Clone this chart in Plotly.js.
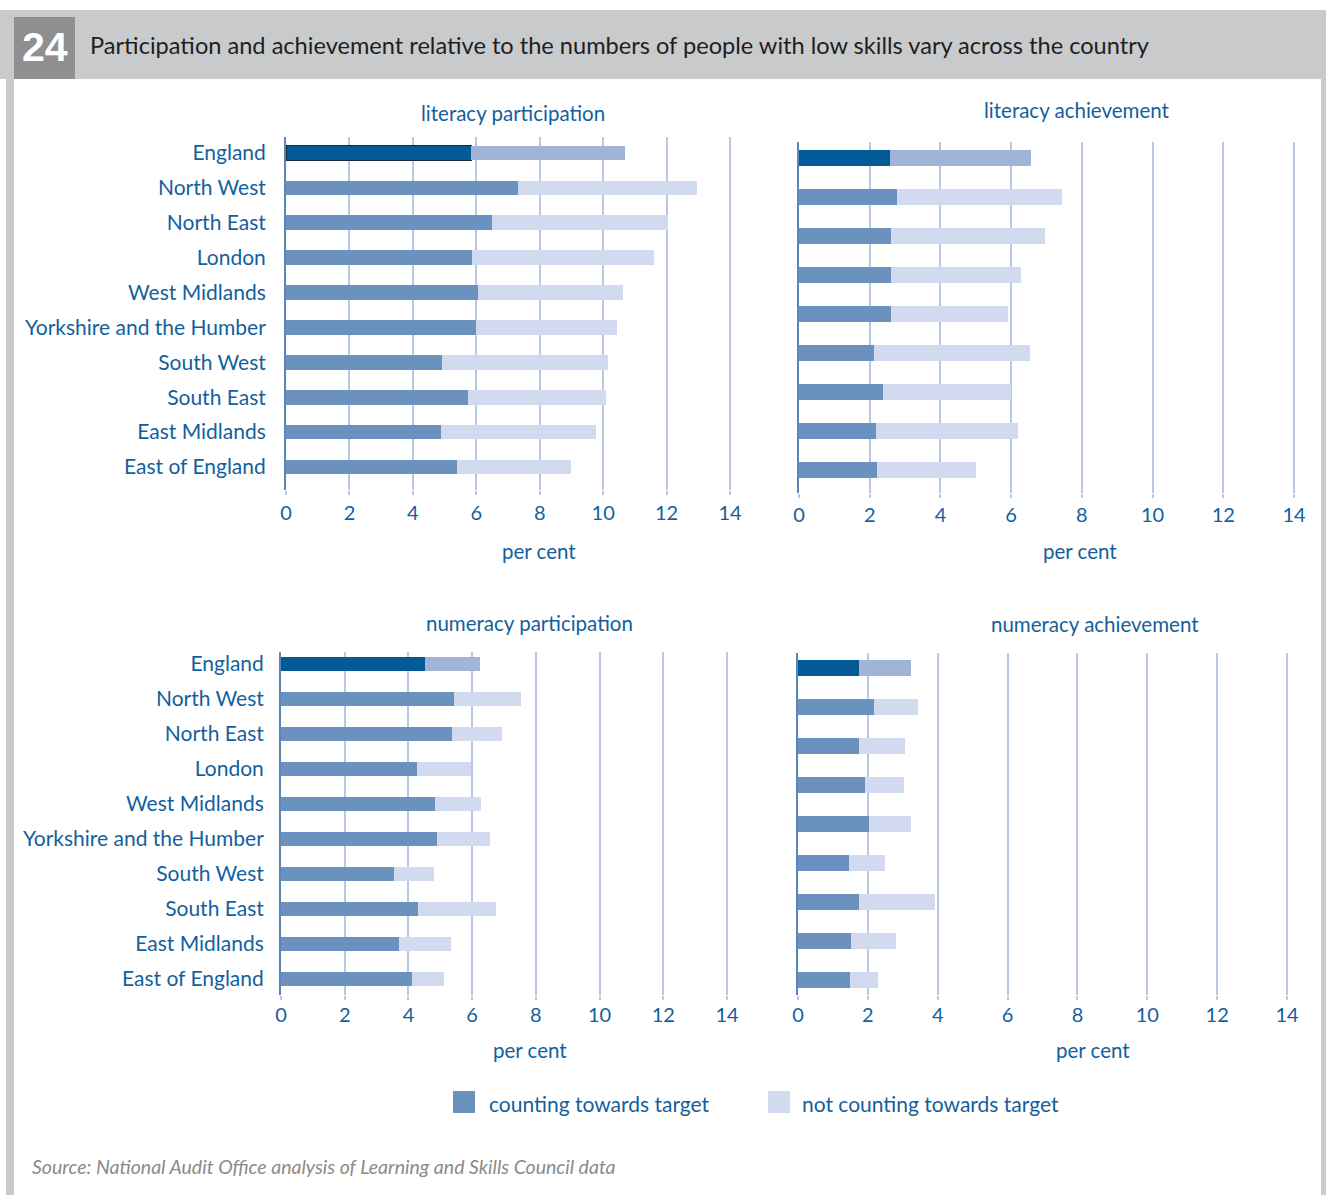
<!DOCTYPE html>
<html>
<head>
<meta charset="utf-8">
<script src="https://cdn.plot.ly/plotly-3.0.1.min.js"></script>
<style>
  html, body { margin: 0; padding: 0; background: #ffffff; }
  #chart { width: 1326px; height: 1195px; }
</style>
</head>
<body>
<div id="chart"></div>
<script>
// ---------------- data ----------------
const regions = ["England", "North West", "North East", "London", "West Midlands",
  "Yorkshire and the Humber", "South West", "South East", "East Midlands", "East of England"];
// the achievement panels show nine bars
const achRegions = ["England", "North West", "North East", "London", "West Midlands",
  "Yorkshire and the Humber", "South West", "South East", "East Midlands"];

const xTicks = [0, 2, 4, 6, 8, 10, 12, 14];

const litPartCounting    = [5.84, 7.30, 6.51, 5.87, 6.06, 6.00, 4.91, 5.74, 4.88, 5.39];
const litPartNotCounting = [4.86, 5.65, 5.55, 5.73, 4.58, 4.45, 5.23, 4.34, 4.90, 3.61];

const litAchCounting    = [2.57, 2.78, 2.59, 2.59, 2.59, 2.13, 2.38, 2.18, 2.21];
const litAchNotCounting = [3.98, 4.66, 4.36, 3.68, 3.33, 4.39, 3.62, 4.00, 2.79];

const numPartCounting    = [4.53, 5.42, 5.36, 4.28, 4.82, 4.91, 3.56, 4.31, 3.71, 4.11];
const numPartNotCounting = [1.72, 2.10, 1.59, 1.69, 1.46, 1.66, 1.23, 2.45, 1.62, 1.00];

const numAchCounting    = [1.74, 2.17, 1.74, 1.91, 2.03, 1.47, 1.74, 1.53, 1.50];
const numAchNotCounting = [1.49, 1.26, 1.32, 1.12, 1.20, 1.03, 2.19, 1.28, 0.78];

const panelTitles = ["literacy participation", "literacy achievement",
  "numeracy participation", "numeracy achievement"];
const axisTitle = "per cent";
const legendLabels = ["counting towards target", "not counting towards target"];
const headerNumber = "24";
const headerTitle = "Participation and achievement relative to the numbers of people with low skills vary across the country";
const sourceText = "Source: National Audit Office analysis of Learning and Skills Council data";

// ---------------- styles ----------------
const FONT = "Lato, 'Open Sans', sans-serif";
const TEXT = "#135f9d";
const C_COUNT = "#6b91be";
const C_COUNT_ENG = "#035a99";
const C_NOT = "#d1daee";
const C_NOT_ENG = "#a0b4d7";
const GRID = "#b9c8e2";
const W = 1326, H = 1195;
const XMAX = 14.08;

function colorsFor(cats, eng, other) { return cats.map(c => c === "England" ? eng : other); }

const panels = [
  { cats: regions,    cnt: litPartCounting, not: litPartNotCounting, xa: "x",  ya: "y",  engLine: true },
  { cats: achRegions, cnt: litAchCounting,  not: litAchNotCounting,  xa: "x2", ya: "y2" },
  { cats: regions,    cnt: numPartCounting, not: numPartNotCounting, xa: "x3", ya: "y3" },
  { cats: achRegions, cnt: numAchCounting,  not: numAchNotCounting,  xa: "x4", ya: "y4" }
];

const traces = [];
panels.forEach((p, i) => {
  traces.push({
    type: "bar", orientation: "h", y: p.cats, x: p.cnt, xaxis: p.xa, yaxis: p.ya,
    name: legendLabels[0], showlegend: false, hoverinfo: "x+y",
    marker: { color: colorsFor(p.cats, C_COUNT_ENG, C_COUNT),
      line: { color: p.cats.map(c => (p.engLine && c === "England") ? "#1b2a3a" : "rgba(0,0,0,0)"), width: p.engLine ? 1 : 0 } }
  });
  traces.push({
    type: "bar", orientation: "h", y: p.cats, x: p.not, xaxis: p.xa, yaxis: p.ya,
    name: legendLabels[1], showlegend: false, hoverinfo: "x+y",
    marker: { color: colorsFor(p.cats, C_NOT_ENG, C_NOT), line: { width: 0 } }
  });
});

// pixel helpers
const px = x => x / W;
const py = y => 1 - y / H;

// x0/x14: pixel positions of 0 and 14 on the axis
function xaxis(x0, x14, anchor, standoff) {
  const x1 = x0 + (x14 - x0) * XMAX / 14;
  return {
    domain: [px(x0), px(x1)], anchor: anchor, range: [0, XMAX], tickvals: xTicks, ticktext: xTicks.map(String),
    showgrid: true, gridcolor: GRID, gridwidth: 2, zeroline: false,
    showline: false, ticks: "outside", ticklen: 4, tickcolor: GRID, tickwidth: 2,
    ticklabelstandoff: standoff,
    tickfont: { family: FONT, size: 20, color: TEXT }, fixedrange: true
  };
}
// top/bottom: pixel extents of the plotting area; rTop/rBot: category range
function yaxis(top, bot, rTop, rBot, anchor, showLabels, standoff) {
  return {
    domain: [py(bot), py(top)], anchor: anchor, type: "category", range: [rBot, rTop],
    showgrid: false, zeroline: false, showline: true, linecolor: "#5a86b8", linewidth: 2,
    ticks: "", showticklabels: showLabels, ticklabelstandoff: standoff,
    tickfont: { family: FONT, size: 21, color: TEXT }, fixedrange: true
  };
}

const annotations = [];
// panel titles
[[513, 113], [1077, 110], [529, 623], [1095, 624]].forEach((pos, i) => {
  annotations.push({ xref: "paper", yref: "paper", x: px(pos[0]), y: py(pos[1]),
    xanchor: "center", yanchor: "middle", showarrow: false, text: panelTitles[i],
    font: { family: FONT, size: 20.5, color: TEXT } });
});
// axis titles
[[539, 551], [1080, 551], [530, 1050], [1093, 1050]].forEach(pos => {
  annotations.push({ xref: "paper", yref: "paper", x: px(pos[0]), y: py(pos[1]),
    xanchor: "center", yanchor: "middle", showarrow: false, text: axisTitle,
    font: { family: FONT, size: 20.5, color: TEXT } });
});
// header
annotations.push({ xref: "paper", yref: "paper", x: px(44.5), y: py(47), xanchor: "center", yanchor: "middle",
  showarrow: false, text: "<b>" + headerNumber + "</b>", font: { family: "'Liberation Sans', Arial, sans-serif", size: 41, color: "#ffffff" } });
annotations.push({ xref: "paper", yref: "paper", x: px(88), y: py(45), xanchor: "left", yanchor: "middle",
  showarrow: false, text: headerTitle, font: { family: FONT, size: 23.6, color: "#1e1e1e" } });
// legend
annotations.push({ xref: "paper", yref: "paper", x: px(487), y: py(1103), xanchor: "left", yanchor: "middle",
  showarrow: false, text: legendLabels[0], font: { family: FONT, size: 21, color: TEXT } });
annotations.push({ xref: "paper", yref: "paper", x: px(800), y: py(1103), xanchor: "left", yanchor: "middle",
  showarrow: false, text: legendLabels[1], font: { family: FONT, size: 21, color: TEXT } });
// source
annotations.push({ xref: "paper", yref: "paper", x: px(30), y: py(1166), xanchor: "left", yanchor: "middle",
  showarrow: false, text: "<i>" + sourceText + "</i>", font: { family: FONT, size: 19.5, color: "#8a8a8a" } });

function rect(x0, y0, x1, y1, color) {
  return { type: "rect", xref: "paper", yref: "paper", x0: px(x0), x1: px(x1), y0: py(y1), y1: py(y0),
    fillcolor: color, line: { width: 0 }, layer: "below" };
}
const shapes = [
  rect(0, 10, 1326, 79, "#c9cacc"),      // header band
  rect(14, 17, 75, 79, "#8f8f91"),       // number box
  rect(6, 79, 14, 1195, "#c9cacc"),      // left border
  rect(1321, 79, 1326, 1195, "#c9cacc"), // right border
  rect(453, 1091, 475, 1113, C_COUNT),   // legend swatches
  rect(768, 1091, 790, 1113, C_NOT)
];

const layout = {
  width: W, height: H, margin: { l: 0, r: 0, t: 0, b: 0 },
  paper_bgcolor: "#ffffff", plot_bgcolor: "rgba(0,0,0,0)",
  barmode: "stack", bargap: 0.58, showlegend: false,
  font: { family: FONT, color: TEXT },
  xaxis:  xaxis(286, 730, "y", 1),
  yaxis:  yaxis(137, 490, -0.46, 9.66, "x", true, 14),
  xaxis2: xaxis(799, 1294, "y2", 0),
  yaxis2: yaxis(142, 493, -0.41, 8.59, "x2", false, 14),
  xaxis3: xaxis(281, 727, "y3", -2),
  yaxis3: yaxis(652, 995, -0.34, 9.46, "x3", true, 11),
  xaxis4: xaxis(798, 1287, "y4", -2),
  yaxis4: yaxis(653, 995, -0.38, 8.39, "x4", false, 11),
  annotations: annotations, shapes: shapes
};

Plotly.newPlot("chart", traces, layout, { displayModeBar: false, staticPlot: true });
</script>
</body>
</html>
